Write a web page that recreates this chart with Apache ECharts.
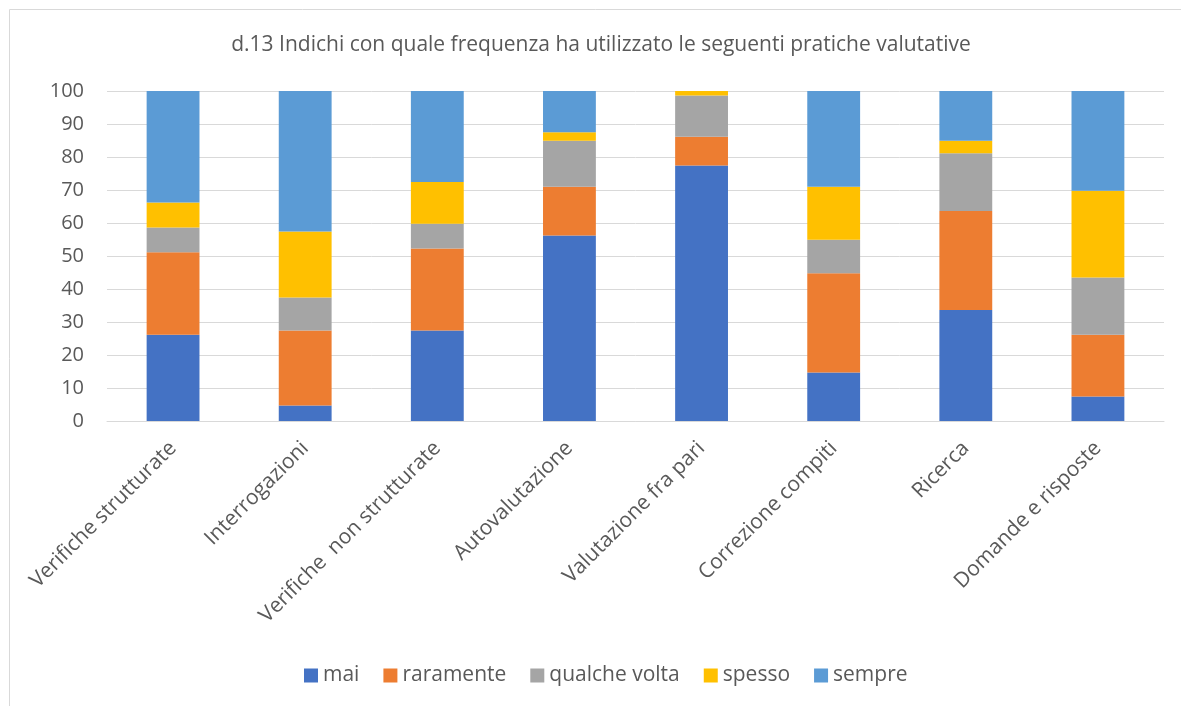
<!DOCTYPE html>
<html lang="it">
<head>
    <meta charset="UTF-8">
    <title>d.13 Pratiche valutative</title>
    <script src="https://cdn.jsdelivr.net/npm/echarts@6/dist/echarts.min.js"></script>
    <style>
        body {
            margin: 0;
            padding: 0;
            background-color: #fff;
        }
        #chart {
            width: 1181px;
            height: 706px;
        }
    </style>
</head>
<body>
    <div id="chart"></div>
    <script>
        const categories = ['Verifiche strutturate', 'Interrogazioni', 'Verifiche  non strutturate', 'Autovalutazione',
            'Valutazione fra pari', 'Correzione compiti', 'Ricerca', 'Domande e risposte'];

        const mai = [26.1, 4.7, 27.4, 56.2, 77.4, 14.7, 33.6, 7.4];
        const raramente = [25.0, 22.7, 24.9, 14.8, 8.7, 30.1, 30.0, 18.7];
        const qualcheVolta = [7.5, 10.0, 7.5, 13.9, 12.5, 10.1, 17.5, 17.4];
        const spesso = [7.6, 20.0, 12.6, 2.6, 1.4, 16.1, 3.8, 26.3];
        const sempre = [33.8, 42.6, 27.6, 12.5, 0, 29.0, 15.1, 30.2];

        const seriesNames = ['mai', 'raramente', 'qualche volta', 'spesso', 'sempre'];
        const seriesData = [mai, raramente, qualcheVolta, spesso, sempre];
        const colors = ['#4472C4', '#ED7D31', '#A5A5A5', '#FFC000', '#5B9BD5'];

        const font = '"Open Sans", sans-serif';
        const chart = echarts.init(document.getElementById('chart'));

        chart.setOption({
            animation: false,
            color: colors,
            textStyle: { fontFamily: font },
            graphic: [{
                type: 'rect',
                shape: { x: 9.5, y: 9.5, width: 1200, height: 720 },
                style: { fill: 'none', stroke: '#d9d9d9', lineWidth: 1 },
                silent: true
            }],
            title: {
                text: 'd.13 Indichi con quale frequenza ha utilizzato le seguenti pratiche valutative',
                left: 596,
                textAlign: 'center',
                top: 30,
                textStyle: { fontFamily: font, fontSize: 21, fontWeight: 'normal', color: '#595959' }
            },
            legend: {
                data: seriesNames,
                top: 660,
                left: 299,
                itemWidth: 14,
                itemHeight: 14,
                itemGap: 24,
                icon: 'rect',
                textStyle: { fontFamily: font, fontSize: 21, color: '#595959' }
            },
            grid: {
                left: 107,
                right: 17,
                top: 91,
                bottom: 285
            },
            xAxis: {
                type: 'category',
                data: categories,
                axisLine: { lineStyle: { color: '#d9d9d9', width: 1 } },
                axisTick: { show: false },
                axisLabel: {
                    rotate: 45,
                    interval: 0,
                    margin: 24,
                    fontSize: 21,
                    color: '#595959',
                    fontFamily: font
                }
            },
            yAxis: {
                type: 'value',
                min: 0,
                max: 100,
                interval: 10,
                axisLine: { show: false },
                axisTick: { show: false },
                splitLine: { lineStyle: { color: '#d9d9d9', width: 1 } },
                axisLabel: {
                    margin: 23,
                    fontSize: 20,
                    color: '#595959',
                    fontFamily: font
                }
            },
            series: seriesNames.map((name, i) => ({
                name: name,
                type: 'bar',
                stack: 'tot',
                barWidth: '40%',
                data: seriesData[i]
            }))
        });
    </script>
</body>
</html>
